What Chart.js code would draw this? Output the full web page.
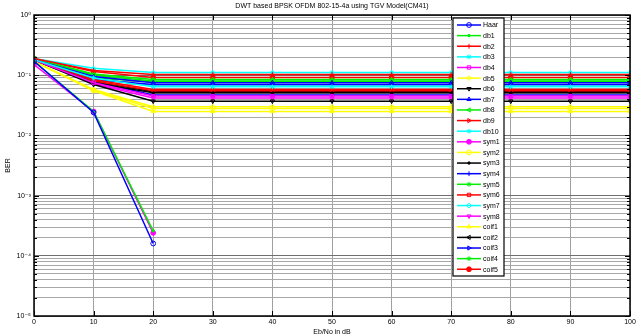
<!DOCTYPE html>
<html>
<head>
<meta charset="utf-8">
<script src="https://cdn.jsdelivr.net/npm/chart.js@4.4.1/dist/chart.umd.min.js"></script>
<style>
    html, body { margin: 0; padding: 0; background: #fff; }
    #wrap { width: 641px; height: 334px; }
</style>
</head>
<body>
<div id="wrap"><canvas id="berChart" width="641" height="334"></canvas></div>
<script>
// Eb/No values (dB)
var snrValues = [0, 10, 20, 30, 40, 50, 60, 70, 80, 90, 100];

// BER, one array per wavelet
var haar  = [0.17, 0.024, 0.00016, null, null, null, null, null, null, null, null];
var db1   = [0.17, 0.025, 0.00026, null, null, null, null, null, null, null, null];
var db2   = [0.19, 0.12, 0.103, 0.103, 0.103, 0.103, 0.103, 0.103, 0.103, 0.103, 0.103];
var db3   = [0.18, 0.09, 0.064, 0.064, 0.064, 0.064, 0.064, 0.064, 0.064, 0.064, 0.064];
var db4   = [0.18, 0.075, 0.045, 0.045, 0.045, 0.045, 0.045, 0.045, 0.045, 0.045, 0.045];
var db5   = [0.17, 0.058, 0.030, 0.030, 0.030, 0.030, 0.030, 0.030, 0.030, 0.030, 0.030];
var db6   = [0.18, 0.07, 0.037, 0.037, 0.037, 0.037, 0.037, 0.037, 0.037, 0.037, 0.037];
var db7   = [0.18, 0.095, 0.075, 0.075, 0.075, 0.075, 0.075, 0.075, 0.075, 0.075, 0.075];
var db8   = [0.19, 0.10, 0.080, 0.080, 0.080, 0.080, 0.080, 0.080, 0.080, 0.080, 0.080];
var db9   = [0.18, 0.085, 0.058, 0.058, 0.058, 0.058, 0.058, 0.058, 0.058, 0.058, 0.058];
var db10  = [0.19, 0.13, 0.111, 0.111, 0.111, 0.111, 0.111, 0.111, 0.111, 0.111, 0.111];
var sym1  = [0.15, 0.025, 0.00024, null, null, null, null, null, null, null, null];
var sym2  = [0.17, 0.056, 0.028, 0.028, 0.028, 0.028, 0.028, 0.028, 0.028, 0.028, 0.028];
var sym3  = [0.18, 0.075, 0.051, 0.051, 0.051, 0.051, 0.051, 0.051, 0.051, 0.051, 0.051];
var sym4  = [0.18, 0.085, 0.070, 0.070, 0.070, 0.070, 0.070, 0.070, 0.070, 0.070, 0.070];
var sym5  = [0.19, 0.105, 0.085, 0.085, 0.085, 0.085, 0.085, 0.085, 0.085, 0.085, 0.085];
var sym6  = [0.18, 0.08, 0.055, 0.055, 0.055, 0.055, 0.055, 0.055, 0.055, 0.055, 0.055];
var sym7  = [0.18, 0.088, 0.066, 0.066, 0.066, 0.066, 0.066, 0.066, 0.066, 0.066, 0.066];
var sym8  = [0.18, 0.072, 0.042, 0.042, 0.042, 0.042, 0.042, 0.042, 0.042, 0.042, 0.042];
var coif1 = [0.17, 0.055, 0.025, 0.025, 0.025, 0.025, 0.025, 0.025, 0.025, 0.025, 0.025];
var coif2 = [0.18, 0.08, 0.053, 0.053, 0.053, 0.053, 0.053, 0.053, 0.053, 0.053, 0.053];
var coif3 = [0.18, 0.078, 0.047, 0.047, 0.047, 0.047, 0.047, 0.047, 0.047, 0.047, 0.047];
var coif4 = [0.19, 0.09, 0.078, 0.078, 0.078, 0.078, 0.078, 0.078, 0.078, 0.078, 0.078];
var coif5 = [0.19, 0.115, 0.092, 0.092, 0.092, 0.092, 0.092, 0.092, 0.092, 0.092, 0.092];

var xTickLabels = ['0', '10', '20', '30', '40', '50', '60', '70', '80', '90', '100'];
var yTickLabels = {1: '10\u2070', 0.1: '10\u207B\u00B9', 0.01: '10\u207B\u00B2', 0.001: '10\u207B\u00B3', 0.0001: '10\u207B\u2074', 0.00001: '10\u207B\u2075'};

// MATLAB style line specs: colour and marker
var B = '#0000ff', G = '#00ee00', R = '#ff0000', C = '#00ffff', M = '#ff00ff', Y = '#ffff00', K = '#000000';
var series = [
    ['Haar', haar, B, 'circle', 0, false],
    ['db1', db1, G, 'dot', 0, true],
    ['db2', db2, R, 'cross', 0, false],
    ['db3', db3, C, 'star', 0, false],
    ['db4', db4, M, 'rect', 0, false],
    ['db5', db5, Y, 'rectRot', 0, false],
    ['db6', db6, K, 'triangle', 180, false],
    ['db7', db7, B, 'triangle', 0, false],
    ['db8', db8, G, 'triangle', 270, false],
    ['db9', db9, R, 'triangle', 90, false],
    ['db10', db10, C, 'star', 0, true],
    ['sym1', sym1, M, 'circle', 0, true],
    ['sym2', sym2, Y, 'circle', 0, false],
    ['sym3', sym3, K, 'dot', 0, true],
    ['sym4', sym4, B, 'cross', 0, false],
    ['sym5', sym5, G, 'star', 0, false],
    ['sym6', sym6, R, 'rect', 0, false],
    ['sym7', sym7, C, 'rectRot', 0, false],
    ['sym8', sym8, M, 'triangle', 180, false],
    ['coif1', coif1, Y, 'triangle', 0, false],
    ['coif2', coif2, K, 'triangle', 270, false],
    ['coif3', coif3, B, 'triangle', 90, false],
    ['coif4', coif4, G, 'star', 0, true],
    ['coif5', coif5, R, 'circle', 0, true]
];

function getDatasets() {
    return series.map(s => {
        var isDot = s[3] === 'dot';
        return {
            label: s[0],
            data: s[1].map((v, k) => ({ x: snrValues[k], y: v })),
            borderColor: s[2],
            backgroundColor: s[5] ? s[2] : 'rgba(0,0,0,0)',
            borderWidth: 1.5,
            pointStyle: isDot ? 'circle' : s[3],
            pointRotation: s[4],
            pointRadius: isDot ? 1.2 : 2.4,
            pointBorderWidth: 1,
            spanGaps: false,
            tension: 0
        };
    });
}

// all log ticks (1..9 per decade) so the minor grid shows like MATLAB
function logTicks(axis) {
    var ticks = [];
    for (var e = -5; e <= 0; e++) {
        for (var m = 1; m <= 9; m++) {
            var v = m * Math.pow(10, e);
            if (v > 1.0000001) break;
            ticks.push({ value: v, major: m === 1 });
        }
    }
    axis.ticks = ticks;
}

// legend box, border, inner ticks, title and axis labels
var decorPlugin = {
    id: 'decor',
    afterDraw(chart) {
        var ctx = chart.ctx;
        var area = chart.chartArea;
        var xs = chart.scales.x, ys = chart.scales.y;
        ctx.save();

        // inward tick marks on all four sides
        ctx.strokeStyle = '#000';
        ctx.lineWidth = 1;
        ctx.beginPath();
        xs.ticks.forEach(t => {
            var px = Math.round(xs.getPixelForValue(t.value)) + 0.5;
            ctx.moveTo(px, area.bottom); ctx.lineTo(px, area.bottom - 5);
            ctx.moveTo(px, area.top); ctx.lineTo(px, area.top + 5);
        });
        ys.ticks.forEach(t => {
            var py = Math.round(ys.getPixelForValue(t.value)) + 0.5;
            var len = t.major ? 5 : 3;
            ctx.moveTo(area.left, py); ctx.lineTo(area.left + len, py);
            ctx.moveTo(area.right, py); ctx.lineTo(area.right - len, py);
        });
        ctx.stroke();

        // plot box
        ctx.lineWidth = 1.5;
        ctx.strokeRect(area.left, area.top, area.right - area.left, area.bottom - area.top);

        // title and axis labels
        ctx.fillStyle = '#000';
        ctx.font = '7px "Liberation Sans", Arial, sans-serif';
        ctx.textAlign = 'center';
        ctx.textBaseline = 'middle';
        ctx.fillText('DWT based BPSK OFDM 802-15-4a using TGV Model(CM41)', (area.left + area.right) / 2, 6);
        ctx.fillText('Eb/No in dB', (area.left + area.right) / 2, 332);
        ctx.save();
        ctx.translate(8, (area.top + area.bottom) / 2);
        ctx.rotate(-Math.PI / 2);
        ctx.fillText('BER', 0, 0);
        ctx.restore();

        // legend
        var lx = 453, ly = 18, lw = 51, lh = 258;
        ctx.fillStyle = '#fff';
        ctx.fillRect(lx, ly, lw, lh);
        ctx.strokeStyle = '#000';
        ctx.lineWidth = 1.2;
        ctx.strokeRect(lx, ly, lw, lh);
        var step = 10.62;
        chart.data.datasets.forEach((ds, i) => {
            var y = 25 + i * step;
            ctx.strokeStyle = ds.borderColor;
            ctx.lineWidth = 1.5;
            ctx.beginPath();
            ctx.moveTo(lx + 4, y);
            ctx.lineTo(lx + 28, y);
            ctx.stroke();
            ctx.fillStyle = ds.backgroundColor;
            ctx.lineWidth = 1;
            Chart.helpers.drawPoint(ctx, {
                pointStyle: ds.pointStyle,
                rotation: ds.pointRotation,
                radius: ds.pointRadius,
                borderWidth: 1
            }, lx + 16, y);
            ctx.fillStyle = '#000';
            ctx.textAlign = 'left';
            ctx.font = '7px "Liberation Sans", Arial, sans-serif';
            ctx.fillText(ds.label, lx + 30, y + 0.5);
        });
        ctx.restore();
    }
};

document.addEventListener("DOMContentLoaded", function() {
    var ctx = document.getElementById('berChart').getContext('2d');
    new Chart(ctx, {
        type: 'line',
        data: { datasets: getDatasets() },
        options: {
            responsive: false,
            animation: false,
            layout: { padding: { left: 0, right: 11, top: 15, bottom: 0 } },
            plugins: {
                legend: { display: false },
                tooltip: { enabled: false }
            },
            scales: {
                x: {
                    type: 'linear',
                    min: 0,
                    max: 100,
                    afterFit: scale => { scale.height = 18; },
                    ticks: {
                        stepSize: 10,
                        padding: 2,
                        color: '#000',
                        font: { family: '"Liberation Sans", Arial, sans-serif', size: 7 },
                        callback: (v, i) => xTickLabels[i]
                    },
                    grid: { color: '#a0a0a0', lineWidth: 1, drawTicks: false },
                    border: { display: false }
                },
                y: {
                    type: 'logarithmic',
                    min: 0.00001,
                    max: 1,
                    afterBuildTicks: logTicks,
                    afterFit: scale => { scale.width = 34; },
                    ticks: {
                        autoSkip: false,
                        padding: 3,
                        color: '#000',
                        font: { family: '"Liberation Sans", "DejaVu Sans", sans-serif', size: 7 },
                        callback: function(v) {
                            for (var key in yTickLabels) {
                                if (Math.abs(Number(key) - v) < v * 1e-6) return yTickLabels[key];
                            }
                            return '';
                        }
                    },
                    grid: {
                        drawTicks: false,
                        lineWidth: 1,
                        color: c => (c.tick && c.tick.major) ? '#707070' : '#a8a8a8'
                    },
                    border: { display: false }
                }
            }
        },
        plugins: [decorPlugin]
    });
});
</script>
</body>
</html>
